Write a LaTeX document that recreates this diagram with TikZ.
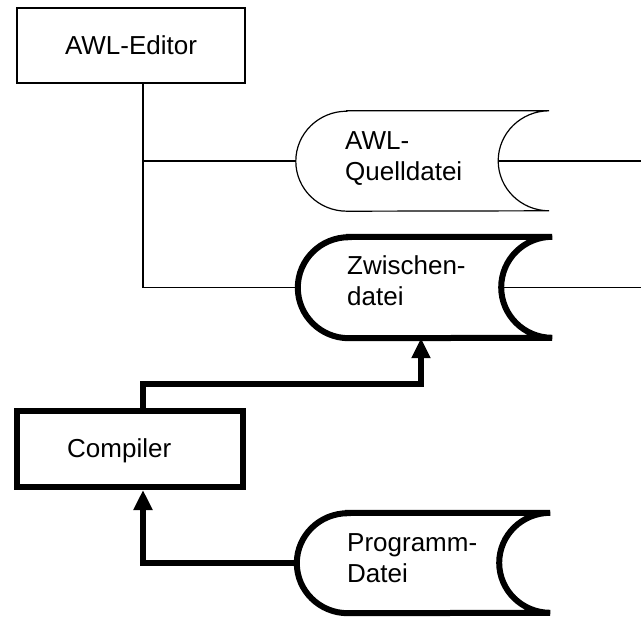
\documentclass[tikz,border=0pt]{standalone}
\usepackage{fontspec}
\setmainfont{Liberation Sans}
\usetikzlibrary{arrows.meta}

\tikzset{
  thinline/.style={line width=1.2pt},
  thickline/.style={line width=6pt},
  txt/.style={inner sep=0pt, align=left, font=\fontsize{26}{31}\selectfont},
  procbox/.style={draw, inner sep=0pt, font=\fontsize{26}{31}\selectfont},
  flow/.style={thickline, -{Triangle[length=20pt,width=18pt]}},
}

% data file symbol: convex left end, concave right end
% #1 name, #2 centre x, #3 centre y, #4 width, #5 height, #6 draw options
\newcommand\datafile[6]{%
  \node[inner sep=0pt, minimum width=#4pt, minimum height=#5pt] (#1) at (#2,#3) {};
  \draw[#6, fill=white]
    ([xshift=51pt]#1.north west) -- (#1.north east)
    arc[start angle=90, end angle=270, x radius=51pt, y radius=#5pt/2]
    -- ([xshift=51pt]#1.south west)
    arc[start angle=270, end angle=90, x radius=51pt, y radius=#5pt/2]
    -- cycle;
  \coordinate (#1-e) at ([xshift=-51pt]#1.east);
}

\begin{document}
\begin{tikzpicture}[x=1pt, y=1pt]
  \useasboundingbox (0,0) rectangle (641,-618);
  \coordinate (rightedge) at (641,0);

  % editor and its output files
  \node[procbox, thinline, minimum width=228pt, minimum height=75pt] (editor) at (131,-45.5) {AWL-Editor};
  \coordinate (trunk) at ([xshift=12pt]editor.south);

  \datafile{quell}{422.5}{-161}{253}{100}{thinline}
  \datafile{zw}{425}{-287.5}{254}{101}{thickline}
  \datafile{prog}{423.5}{-563}{253}{100}{thickline}

  % the base anchor of a two-line node sits on its last line
  \node[txt, anchor=base west] (quelltext) at (345,-180) {AWL-\\Quelldatei};
  \node[txt, anchor=base west] (zwtext) at (347,-305) {Zwischen-\\datei};
  \node[txt, anchor=base west] (progtext) at (347,-582) {Programm-\\Datei};

  \draw[thinline] (trunk) |- (zw.west);
  \draw[thinline] (trunk |- quell.west) -- (quell.west);
  \draw[thinline] (quell-e) -- (quell-e -| rightedge);
  \draw[thinline] (zw-e) -- (zw-e -| rightedge);

  % compiler
  \node[procbox, thickline, minimum width=226pt, minimum height=76pt] (compiler) at (130,-449) {};
  \node[txt, anchor=base west] (compilertext) at (67,-457) {Compiler};

  \draw[flow] (trunk |- compiler.north) -- ++(0,24) -| ([xshift=-4pt]zw.south);
  \draw[flow] (prog.west) -| ([xshift=13pt]compiler.south);
\end{tikzpicture}
\end{document}
